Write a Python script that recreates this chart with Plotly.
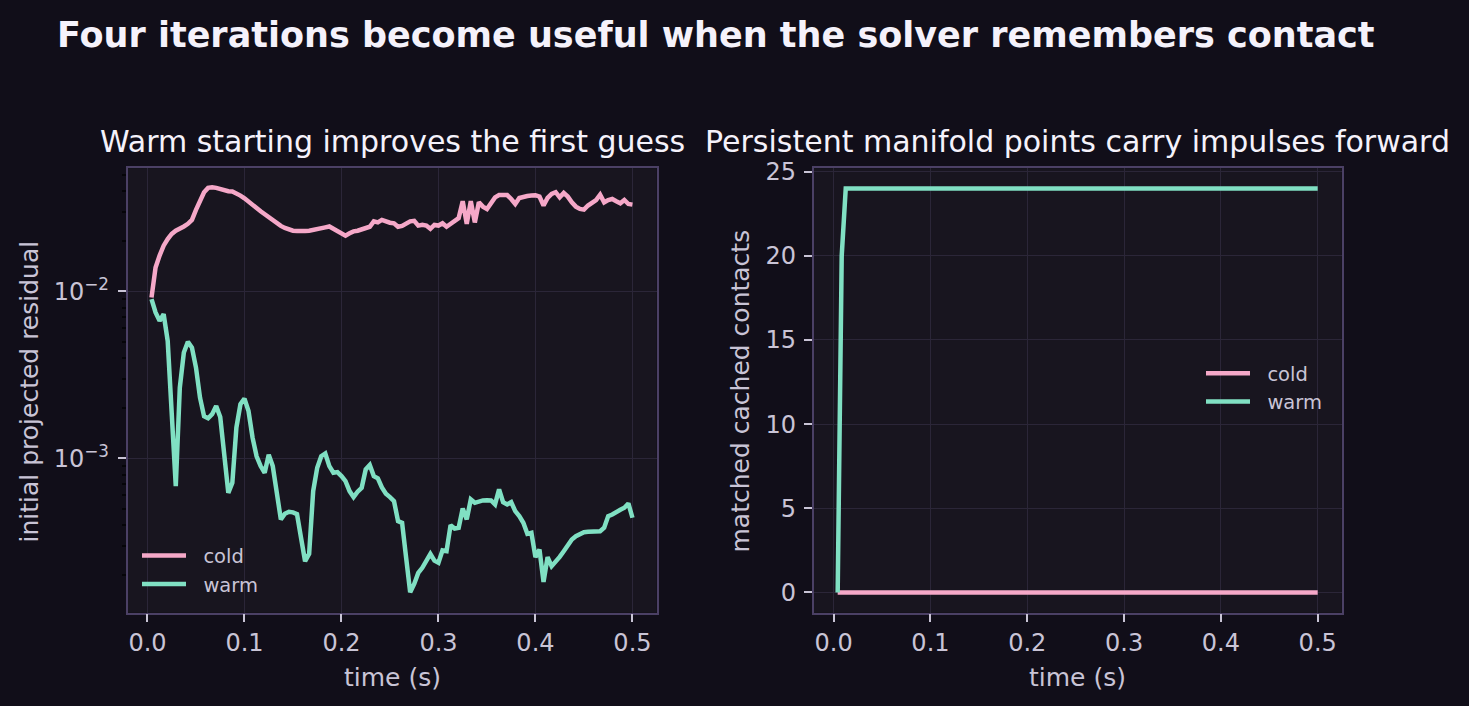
import numpy as np
import plotly.graph_objects as go

# time axis: 120 solver steps at 240 Hz
dt = 1.0 / 240.0
time_s = np.arange(1, 121) * dt

# initial projected residual per step
resid_cold = [
    0.00920, 0.0139, 0.0164, 0.0188, 0.0206, 0.0221, 0.0231, 0.0240, 0.0245, 0.0254,
    0.0268, 0.0308, 0.0353, 0.0393, 0.0417, 0.0421, 0.0417, 0.0411, 0.0402, 0.0398,
    0.0397, 0.0387, 0.0375, 0.0361, 0.0347, 0.0331, 0.0316, 0.0302, 0.0290, 0.0278,
    0.0265, 0.0256, 0.0247, 0.0240, 0.0234, 0.0231, 0.0230, 0.0229, 0.0230, 0.0231,
    0.0233, 0.0236, 0.0239, 0.0242, 0.0245, 0.0237, 0.0230, 0.0224, 0.0216, 0.0223,
    0.0229, 0.0231, 0.0236, 0.0240, 0.0244, 0.0263, 0.0259, 0.0268, 0.0261, 0.0258,
    0.0256, 0.0244, 0.0247, 0.0256, 0.0263, 0.0265, 0.0248, 0.0251, 0.0248, 0.0237,
    0.0250, 0.0248, 0.0256, 0.0244, 0.0254, 0.0268, 0.0275, 0.0347, 0.0254, 0.0347,
    0.0259, 0.0342, 0.0322, 0.0312, 0.0339, 0.0366, 0.0378, 0.0380, 0.0378, 0.0358,
    0.0334, 0.0363, 0.0370, 0.0373, 0.0375, 0.0377, 0.0370, 0.0327, 0.0363, 0.0384,
    0.0393, 0.0366, 0.0389, 0.0370, 0.0342, 0.0322, 0.0312, 0.0309, 0.0327, 0.0342,
    0.0353, 0.0380, 0.0342, 0.0353, 0.0358, 0.0347, 0.0337, 0.0353, 0.0334, 0.0331,
]
resid_warm = [
    0.00899, 0.00748, 0.00667, 0.00731, 0.00506, 0.00192, 0.000682, 0.00265, 0.00431, 0.00499,
    0.00461, 0.00350, 0.00231, 0.00179, 0.00174, 0.00184, 0.00206, 0.00177, 0.00106, 0.000622,
    0.000715, 0.00153, 0.00211, 0.00228, 0.00192, 0.00133, 0.00103, 0.000899, 0.000820, 0.00105,
    0.000899, 0.000637, 0.000431, 0.000466, 0.000479, 0.000475, 0.000464, 0.000334, 0.000242, 0.000268,
    0.000637, 0.000879, 0.00103, 0.00107, 0.000899, 0.000820, 0.000828, 0.000783, 0.000731, 0.000637,
    0.000586, 0.000631, 0.000667, 0.000859, 0.000912, 0.000783, 0.000759, 0.000670, 0.000614, 0.000586,
    0.000555, 0.000421, 0.000411, 0.000254, 0.000158, 0.000177, 0.000206, 0.000221, 0.000242, 0.000268,
    0.000244, 0.000237, 0.000281, 0.000278, 0.000398, 0.000380, 0.000384, 0.000501, 0.000431, 0.000568,
    0.000542, 0.000555, 0.000560, 0.000562, 0.000560, 0.000530, 0.000652, 0.000547, 0.000530, 0.000547,
    0.000483, 0.000451, 0.000411, 0.000353, 0.000358, 0.000256, 0.000284, 0.000182, 0.000256, 0.000226,
    0.000240, 0.000257, 0.000278, 0.000302, 0.000327, 0.000342, 0.000353, 0.000361, 0.000363, 0.000363,
    0.000363, 0.000366, 0.000384, 0.000451, 0.000461, 0.000479, 0.000492, 0.000506, 0.000537, 0.000441,
]

# matched cached contacts per step
matched_cold = [0] * 120
matched_warm = [0, 20] + [24] * 118

# colours
BG = "#110e19"
PLOT_BG = "#18151f"
FRAME = "#4b4065"
GRID = "#2b2638"
COLD = "#f5a8c8"
WARM = "#80e0c3"
TICK_TXT = "#c9c4d6"
TITLE_TXT = "#f5f2fb"
FONT = "DejaVu Sans"

W, H = 1469, 706


def px_x(p):
    return p / W


def px_y(p):
    return 1 - p / H


fig = go.Figure()

# leading spaces widen the gap between legend swatch and label
fig.add_trace(go.Scatter(x=time_s, y=resid_cold, mode="lines", name="  cold",
                         line=dict(color=COLD, width=4.5), xaxis="x", yaxis="y",
                         legend="legend"))
fig.add_trace(go.Scatter(x=time_s, y=resid_warm, mode="lines", name="  warm",
                         line=dict(color=WARM, width=4.5), xaxis="x", yaxis="y",
                         legend="legend"))
fig.add_trace(go.Scatter(x=time_s, y=matched_cold, mode="lines", name="  cold",
                         line=dict(color=COLD, width=4.5), xaxis="x2", yaxis="y2",
                         legend="legend2"))
fig.add_trace(go.Scatter(x=time_s, y=matched_warm, mode="lines", name="  warm",
                         line=dict(color=WARM, width=4.5), xaxis="x2", yaxis="y2",
                         legend="legend2"))

axis_common = dict(
    showline=True, mirror=True, linecolor=FRAME, linewidth=1.5,
    showgrid=True, gridcolor=GRID, gridwidth=1,
    zeroline=False, ticks="outside", ticklen=8, tickwidth=1.5, tickcolor=TICK_TXT,
    tickfont=dict(family=FONT, size=24, color=TICK_TXT),
)

ydom = [px_y(611.3), px_y(160.5)]
x_ticks = [0.0, 0.1, 0.2, 0.3, 0.4, 0.5]
x_range = [-0.0206, 0.5248]

minor_vals = [m * 10.0 ** e for e in (-4, -3, -2) for m in range(2, 10) if m * 10.0 ** e < 0.055]

legend_font = dict(family=FONT, size=19.5, color=TICK_TXT)

fig.update_layout(
    width=W, height=H,
    paper_bgcolor=BG, plot_bgcolor=PLOT_BG,
    margin=dict(l=0, r=0, t=0, b=0),
    font=dict(family=FONT, color=TICK_TXT),
    xaxis=dict(axis_common, domain=[px_x(127.5), px_x(656.5)], range=x_range,
               tickvals=x_ticks, tickformat=".1f", anchor="y"),
    yaxis=dict(axis_common, domain=ydom, type="log", range=[-3.924, -1.262],
               tickvals=[1e-3, 1e-2], ticktext=["10<sup>−3</sup>", "10<sup>−2</sup>"],
               minor=dict(tickvals=minor_vals, ticks="outside", ticklen=4,
                          tickcolor="#050408", showgrid=False),
               ticklabelstandoff=4, anchor="x"),
    xaxis2=dict(axis_common, domain=[px_x(813.7), px_x(1341.7)], range=x_range,
                tickvals=x_ticks, tickformat=".1f", anchor="y2"),
    yaxis2=dict(axis_common, domain=ydom, range=[-1.2, 25.2],
                tickvals=[0, 5, 10, 15, 20, 25], ticklabelstandoff=3, anchor="x2"),
    legend=dict(x=px_x(137), y=px_y(534), xanchor="left", yanchor="top",
                bgcolor="rgba(0,0,0,0)", font=legend_font, itemwidth=44),
    legend2=dict(x=px_x(1201), y=px_y(349), xanchor="left", yanchor="top",
                 bgcolor="rgba(0,0,0,0)", font=legend_font, itemwidth=44),
    showlegend=True,
)

annotations = [
    dict(text="<b>Four iterations become useful when the solver remembers contact</b>",
         x=px_x(715.5), y=px_y(25), font=dict(size=35, color=TITLE_TXT)),
    dict(text="Warm starting improves the first guess",
         x=px_x(392), y=px_y(133), font=dict(size=30, color=TITLE_TXT)),
    dict(text="Persistent manifold points carry impulses forward",
         x=px_x(1077.7), y=px_y(133), font=dict(size=30, color=TITLE_TXT)),
    dict(text="time (s)", x=px_x(392), y=px_y(677), font=dict(size=25, color=TICK_TXT)),
    dict(text="time (s)", x=px_x(1077.7), y=px_y(677), font=dict(size=25, color=TICK_TXT)),
    dict(text="initial projected residual", x=px_x(30), y=px_y(387), textangle=-90,
         font=dict(size=25, color=TICK_TXT)),
    dict(text="matched cached contacts", x=px_x(741), y=px_y(387), textangle=-90,
         font=dict(size=25, color=TICK_TXT)),
]
for a in annotations:
    a.update(xref="paper", yref="paper", showarrow=False, xanchor="center", yanchor="middle")
    a["font"]["family"] = FONT
fig.update_layout(annotations=annotations)

# pin the figure to the window origin (no body margin, nothing above it)
page_fix = (
    "document.documentElement.style.overflow='hidden';"
    "document.body.style.margin='0';document.body.style.overflow='hidden';"
    "var gd=document.getElementById('{plot_id}');"
    "gd.style.position='absolute';gd.style.left='0';gd.style.top='0';"
)
fig.write_html("out.html", post_script=page_fix, config={"displayModeBar": False})
